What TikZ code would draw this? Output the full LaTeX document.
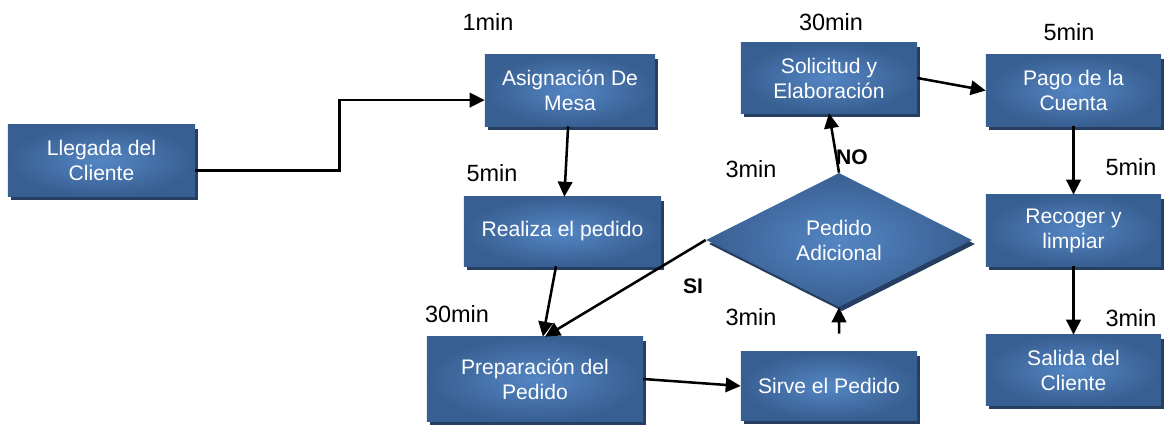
\documentclass[tikz,border=0pt]{standalone}
\usepackage{fontspec}
\setmainfont{Liberation Sans}
\usetikzlibrary{shapes.geometric,shadows,arrows.meta}

\definecolor{azulclaro}{RGB}{84,134,196}
\definecolor{azuloscuro}{RGB}{56,95,145}
\definecolor{sombra}{RGB}{38,62,98}

\begin{document}
\begin{tikzpicture}[x=0.025cm,y=-0.025cm,
	caja/.style={shape=rectangle,inner color=azulclaro,outer color=azuloscuro,
		drop shadow={shadow xshift=0.075cm,shadow yshift=-0.1cm,fill=sombra,opacity=1},
		text=white,align=center,font=\fontsize{15}{17.8}\selectfont,
		minimum width=4.375cm,minimum height=1.775cm,inner sep=0pt},
	decision/.style={caja,shape=diamond,aspect=2,minimum width=6.65cm,minimum height=3.35cm},
	tiempo/.style={font=\fontsize{16.7}{20}\selectfont},
	rama/.style={font=\bfseries\fontsize{15}{18}\selectfont},
	flecha/.style={line width=1.8pt,-{Triangle[length=0.375cm,width=0.36cm]}}]
	
	\useasboundingbox (0,0) rectangle (1168,425);
	
	\node[caja,minimum width=4.675cm] (llegada) at (101.5, 160.5) {Llegada del\\Cliente};
	\node[caja,minimum width=4.25cm]  (asign)   at (570, 90.5)    {Asignación De\\Mesa};
	\node[caja,minimum width=4.925cm,minimum height=1.725cm] (realiza) at (562.5, 231.5) {Realiza el pedido};
	\node[caja,minimum width=5.4cm,minimum height=2.1cm]     (prepara) at (535, 379)     {Preparación del\\Pedido};
	\node[caja,minimum width=4.4cm,minimum height=1.7cm]     (sirve)   at (829, 386)     {Sirve el Pedido};
	\node[decision] (pedido)    at (839, 240)     {Pedido\\Adicional};
	\node[caja,minimum width=4.4cm,minimum height=1.75cm]    (solicitud) at (829, 78)    {Solicitud y\\Elaboración};
	\node[caja] (pago)    at (1073.5, 90.5)  {Pago de la\\Cuenta};
	\node[caja] (recoger) at (1073.5, 230.5) {Recoger y\\limpiar};
	\node[caja,minimum height=1.75cm] (salida) at (1073.5, 370) {Salida del\\Cliente};
	
	\node[tiempo] (t1) at (488, 22)   {1min};
	\node[tiempo] (t2) at (492, 173)  {5min};
	\node[tiempo] (t3) at (457, 314)  {30min};
	\node[tiempo] (t4) at (751, 169)  {3min};
	\node[tiempo] (t5) at (751, 317)  {3min};
	\node[tiempo] (t6) at (831, 22)   {30min};
	\node[tiempo] (t7) at (1069, 32)  {5min};
	\node[tiempo] (t8) at (1131, 167) {5min};
	\node[tiempo] (t9) at (1131, 318) {3min};
	\node[rama] (no) at (852, 157) {NO};
	\node[rama] (si) at (693, 286) {SI};
	
	\draw[flecha] ([yshift=-0.25cm]llegada.east) -| ([xshift=-3.625cm,yshift=-0.24cm]asign.west) -- ([yshift=-0.24cm]asign.west);
	\path[flecha] (asign) edge (realiza);
	\path[flecha] (realiza) edge (prepara);
	\path[flecha] (pedido.west) edge ([xshift=0.25cm]prepara.north);
	\path[flecha] (prepara.east) edge (sirve.west);
	\path[flecha] ([xshift=0.25cm,yshift=0.45cm]sirve.north) edge (pedido.south);
	\path[flecha] (pedido.north) edge (solicitud.south);
	\path[flecha] (solicitud.east) edge (pago.west);
	\path[flecha] (pago) edge (recoger);
	\path[flecha] (recoger) edge (salida);
	
\end{tikzpicture}
\end{document}
